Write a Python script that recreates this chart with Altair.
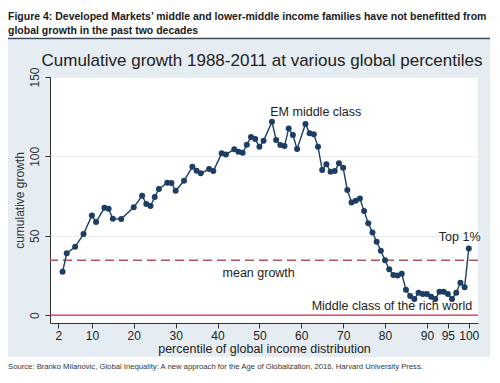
import altair as alt
import pandas as pd

# ---- data ----
percentiles = [3, 4, 6, 8, 10, 11, 13, 14, 15, 17, 20, 22, 23, 24, 25, 26, 28, 29, 30, 32,
               34, 35, 36, 38, 39, 41, 42, 44, 45, 46, 47, 48, 49, 50, 51, 53, 54, 55, 56, 57,
               58, 59, 61, 62, 63, 64, 65, 66, 67, 68, 69, 70, 71, 72, 73, 74, 75, 76, 77, 78,
               79, 80, 81, 82, 83, 84, 85, 86, 87, 88, 89, 90, 91, 92, 93, 94, 95, 96, 97, 98,
               99, 100]
growth = [27.3, 38.9, 43.0, 51.0, 62.8, 58.6, 67.6, 67.0, 60.7, 60.5, 67.9, 75.2, 70.0, 68.7, 74.4, 79.5, 83.4, 83.2, 78.3, 84.6,
          93.4, 90.9, 89.3, 92.0, 90.7, 101.9, 101.2, 104.4, 102.9, 102.3, 107.3, 112.2, 111.0, 106.0, 109.8, 121.8, 110.3, 107.1, 106.5, 117.6,
          113.4, 104.6, 120.4, 114.5, 113.9, 106.0, 91.4, 95.1, 90.3, 90.7, 95.6, 92.8, 78.8, 71.0, 72.0, 73.5, 65.5, 57.8, 52.1, 46.2,
          40.5, 34.5, 28.8, 25.2, 25.0, 26.0, 16.0, 12.0, 10.1, 14.1, 13.2, 13.2, 11.5, 10.1, 14.7, 14.7, 13.2, 10.1, 14.1, 20.4,
          17.5, 42.0]
mean_growth = 34.5
zero_level = 0

x_ticks = [2, 10, 20, 30, 40, 50, 60, 70, 80, 90, 95, 100]
y_ticks = [0, 50, 100, 150]

ann_text = ["EM middle class", "Top 1%", "mean growth", "Middle class of the rich world"]
ann_x = [52.6, 102.8, 41.2, 100.8]
ann_y = [128, 49.5, 26.7, 5.8]
ann_align = ["left", "right", "left", "right"]

header_1 = "Figure 4: Developed Markets\u2019 middle and lower-middle income families have not benefitted from"
header_2 = "global growth in the past two decades"
chart_title = "Cumulative growth 1988-2011 at various global percentiles"
source_text = "Source: Branko Milanovic, Global Inequality: A new approach for the Age of Globalization, 2016, Harvard University Press."

# ---- tables ----
df = pd.DataFrame({"pct": percentiles, "growth": growth})
ann = pd.DataFrame({"pct": ann_x, "growth": ann_y, "label": ann_text, "align": ann_align})
mean_df = pd.DataFrame({"growth": [mean_growth]})
zero_df = pd.DataFrame({"growth": [zero_level]})
one = pd.DataFrame({"k": [0]})

NAVY = "#1d3e64"
PANEL = "#e5ecf2"
FONT = "Liberation Sans"

x_scale = alt.Scale(domain=[0, 102.2], nice=False, zero=False)
y_scale = alt.Scale(domain=[-5, 150], nice=False, zero=False)
x_axis = alt.Axis(values=x_ticks, title="percentile of global income distribution",
                  grid=False, domainColor="#333333", tickColor="#333333", tickSize=5,
                  labelFont=FONT, labelFontSize=12, labelColor="#222222", labelPadding=2,
                  titleFont=FONT, titleFontSize=12.5, titleFontWeight="normal", titleColor="#222222",
                  titlePadding=1, labelFlush=False)
y_axis = alt.Axis(values=y_ticks, title="cumulative growth", grid=True, gridColor="#e8eef3",
                  domainColor="#333333", tickColor="#333333", tickSize=5,
                  labelFont=FONT, labelFontSize=12, labelColor="#333333", labelAngle=-90,
                  labelAlign="center", labelBaseline="bottom", labelPadding=4,
                  titleFont=FONT, titleFontSize=12, titleFontWeight="normal", titleColor="#333333",
                  titlePadding=2)

X = alt.X("pct:Q", scale=x_scale, axis=x_axis)
Y = alt.Y("growth:Q", scale=y_scale, axis=y_axis)

# white header / footer bands over the grey panel background
header_bg = alt.Chart(one).mark_rect(color="white").encode(
    x=alt.value(-50), x2=alt.value(440), y=alt.value(-80), y2=alt.value(-37.5))
footer_bg = alt.Chart(one).mark_rect(color="white").encode(
    x=alt.value(-50), x2=alt.value(440), y=alt.value(280), y2=alt.value(300))
header_rule = alt.Chart(one).mark_rule(color="#3b4a5c", strokeWidth=1.5).encode(
    x=alt.value(-42), x2=alt.value(440), y=alt.value(-38.5))
h1 = alt.Chart(one).mark_text(align="left", baseline="alphabetic", font=FONT, fontSize=10.5,
                              fontWeight="bold", color="#1a1a1a").encode(
    x=alt.value(-42), y=alt.value(-57), text=alt.value(header_1))
h2 = alt.Chart(one).mark_text(align="left", baseline="alphabetic", font=FONT, fontSize=10.5,
                              fontWeight="bold", color="#1a1a1a").encode(
    x=alt.value(-42), y=alt.value(-43.5), text=alt.value(header_2))
title = alt.Chart(one).mark_text(align="center", baseline="alphabetic", font=FONT, fontSize=17,
                                 color="#222222").encode(
    x=alt.value(212), y=alt.value(-11), text=alt.value(chart_title))
source = alt.Chart(one).mark_text(align="left", baseline="alphabetic", font=FONT, fontSize=7.7,
                                  color="#333333").encode(
    x=alt.value(-42), y=alt.value(292), text=alt.value(source_text))

zero_rule = alt.Chart(zero_df).mark_rule(color="#c8304c", strokeWidth=1.2).encode(y=Y)
mean_rule = alt.Chart(mean_df).mark_rule(color="#b4545e", strokeWidth=1.5,
                                         strokeDash=[9, 5]).encode(y=Y)

line = alt.Chart(df).mark_line(color=NAVY, strokeWidth=1.4).encode(x=X, y=Y)
points = alt.Chart(df).mark_circle(color=NAVY, size=36, opacity=1).encode(x=X, y=Y)

labels_l = alt.Chart(ann[ann["align"] == "left"]).mark_text(
    align="left", baseline="middle", font=FONT, fontSize=12.5, color="#222222").encode(
    x=X, y=Y, text="label:N")
labels_r = alt.Chart(ann[ann["align"] == "right"]).mark_text(
    align="right", baseline="middle", font=FONT, fontSize=12.5, color="#222222").encode(
    x=X, y=Y, text="label:N")

chart = alt.layer(
    header_bg, footer_bg, header_rule, h1, h2, title, source,
    zero_rule, mean_rule, line, points, labels_l, labels_r
).properties(
    width=428, height=246,
    autosize=alt.AutoSizeParams(type="none"),
    padding={"left": 42, "top": 69, "right": 12, "bottom": 50},
    background=PANEL,
).configure_view(fill="white", stroke=None)

chart.save("out.html", embed_options={"renderer": "svg", "actions": False})
